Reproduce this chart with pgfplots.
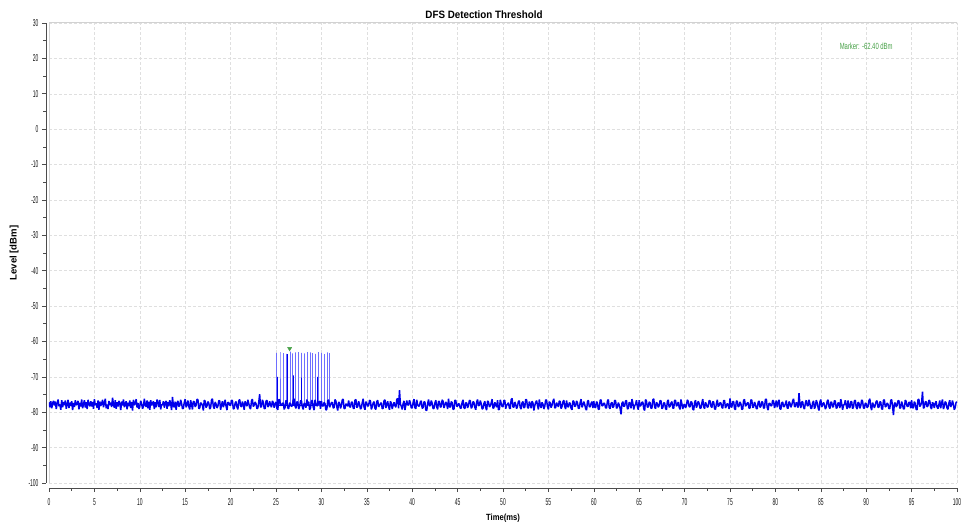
\documentclass[border=0pt]{standalone}
\usepackage{fontspec}
\setmainfont{Liberation Sans}
\newfontfamily\tickfont[FakeStretch=0.5]{Liberation Sans}
\newfontfamily\mkfont[FakeStretch=0.66]{Liberation Sans}
\newfontfamily\titlefont[FakeStretch=0.92]{Liberation Sans}
\newfontfamily\xlabfont[FakeStretch=0.85]{Liberation Sans}
\usepackage{pgfplots}
\pgfplotsset{compat=1.18}
\definecolor{mkgreen}{RGB}{70,160,70}
\definecolor{sig}{RGB}{0,0,235}
\definecolor{pulse}{RGB}{110,110,255}
\begin{document}
\begin{tikzpicture}
\begin{axis}[
  scale only axis, width=908bp, height=460bp,
  xmin=0, xmax=100, ymin=-100, ymax=30,
  axis x line*=bottom, axis y line*=left,
  axis x line shift=5bp, axis y line shift=3bp,
  axis line style={black!70, line width=0.8pt, -},
  xtick={0,5,...,100}, ytick={-100,-90,...,30},
  xticklabels={0,5,10,15,20,25,30,35,40,45,50,55,60,65,70,75,80,85,90,95,100},
  yticklabels={-100,-90,-80,-70,-60,-50,-40,-30,-20,-10,0,10,20,30},
  minor x tick num=1, minor y tick num=1,
  tick align=outside, major tick length=4bp, minor tick length=2.5bp,
  tick style={black!70, line width=0.6pt},
  grid=major, major grid style={densely dashed, gray!25, line width=0.4pt},
  tick label style={font=\tickfont\fontsize{10}{11}\selectfont, text=black!90},
  xticklabel style={yshift=-3bp},
  title={DFS Detection Threshold},
  every axis title/.style={font=\titlefont\bfseries\fontsize{10.7}{12}\selectfont, at={(rel axis cs:0.5,1)}, anchor=center, yshift=8bp, xshift=-19bp},
  xlabel={Time(ms)}, ylabel={Level [dBm]},
  every axis x label/.style={at={(rel axis cs:0.5,-0.0761)}, anchor=center, font=\xlabfont\bfseries\fontsize{9}{10}\selectfont},
  every axis y label/.style={at={(rel axis cs:-0.0385,0.5)}, anchor=center, rotate=90, font=\bfseries\fontsize{9.6}{10}\selectfont},
]
\draw[gray!35, line width=1pt] (rel axis cs:0,0) rectangle (rel axis cs:1,1);
\coordinate (LL) at (rel axis cs:0,0);
\coordinate (UR) at (rel axis cs:1,1);
% pulses
\addplot[pulse, line width=0.8pt] coordinates {
(25.08,-78)(25.08,-63.2)(25.08,-78)
(25.44,-78)(25.44,-63.0)(25.44,-78)
(25.81,-78)(25.81,-63.3)(25.81,-78)
(26.18,-78)(26.18,-63.5)(26.18,-78)
(26.54,-78)(26.54,-62.9)(26.54,-78)
(26.84,-78)(26.84,-63.4)(26.84,-78)
(27.12,-78)(27.12,-63.1)(27.12,-78)
(27.45,-78)(27.45,-63.0)(27.45,-78)
(27.78,-78)(27.78,-63.2)(27.78,-78)
(28.11,-78)(28.11,-63.4)(28.11,-78)
(28.41,-78)(28.41,-63.0)(28.41,-78)
(28.74,-78)(28.74,-63.1)(28.74,-78)
(29.04,-78)(29.04,-63.3)(29.04,-78)
(29.37,-78)(29.37,-63.5)(29.37,-78)
(29.70,-78)(29.70,-63.0)(29.70,-78)
(29.99,-78)(29.99,-63.2)(29.99,-78)
(30.29,-78)(30.29,-63.6)(30.29,-78)
(30.62,-78)(30.62,-63.1)(30.62,-78)
(30.87,-78)(30.87,-63.3)(30.87,-78)
};
\addplot[sig, line width=0.6pt] coordinates {
(25.10,-78)(25.10,-70.0)(25.10,-78)
(26.20,-78)(26.20,-63.6)(26.20,-78)
(26.86,-78)(26.86,-69.6)(26.86,-78)
(27.80,-78)(27.80,-70.2)(27.80,-78)
(29.60,-78)(29.60,-70.0)(29.60,-78)
};
% noise floor, 0.1 ms per sample
\addplot[sig, line width=1.5pt, line join=bevel] table[row sep=\\, header=false, x expr=\coordindex*0.1, y index=0] {
-77.2\\-78.6\\-76.9\\-78.9\\-77.4\\-76.8\\-78.1\\-77.0\\-79.1\\-77.5\\
-76.4\\-78.3\\-77.8\\-79.3\\-76.6\\-78.6\\-77.1\\-78.0\\-76.7\\-79.0\\
-77.9\\-76.5\\-78.8\\-77.3\\-78.2\\-76.9\\-79.4\\-77.4\\-78.5\\-76.6\\
-78.0\\-77.6\\-76.8\\-79.2\\-77.3\\-78.4\\-76.4\\-78.9\\-77.7\\-76.6\\
-78.7\\-77.2\\-79.1\\-76.5\\-77.8\\-78.3\\-76.9\\-78.4\\-77.1\\-79.0\\
-76.3\\-78.0\\-77.5\\-78.8\\-76.7\\-79.3\\-77.0\\-78.2\\-77.6\\-76.5\\
-78.6\\-77.4\\-76.2\\-78.9\\-77.8\\-79.1\\-76.8\\-78.0\\-77.3\\-78.5\\
-75.9\\-77.9\\-78.7\\-76.6\\-79.0\\-77.2\\-78.4\\-76.8\\-77.5\\-79.4\\
-77.0\\-78.1\\-76.4\\-78.6\\-77.7\\-76.9\\-79.2\\-77.3\\-78.3\\-76.7\\
-78.8\\-77.1\\-79.5\\-76.5\\-78.0\\-77.6\\-76.3\\-78.7\\-77.4\\-79.1\\
-78.2\\-76.8\\-77.6\\-79.0\\-78.4\\-76.2\\-77.9\\-78.5\\-76.7\\-78.9\\
-77.0\\-79.3\\-76.6\\-78.1\\-77.5\\-76.9\\-79.1\\-77.2\\-78.6\\-76.4\\
-77.3\\-78.5\\-76.5\\-79.2\\-77.8\\-78.0\\-76.9\\-78.7\\-77.4\\-76.8\\
-79.0\\-77.1\\-78.3\\-76.6\\-77.6\\-79.4\\-75.7\\-78.2\\-78.6\\-77.0\\
-79.3\\-77.5\\-76.8\\-78.4\\-78.1\\-76.5\\-77.5\\-79.0\\-78.9\\-77.2\\
-76.3\\-78.6\\-77.9\\-76.7\\-78.4\\-79.2\\-76.6\\-77.8\\-79.2\\-76.9\\
-77.1\\-78.5\\-78.0\\-76.4\\-76.4\\-79.0\\-78.8\\-77.3\\-77.6\\-78.1\\
-79.5\\-76.6\\-76.9\\-78.7\\-78.2\\-77.0\\-77.4\\-79.1\\-78.7\\-76.5\\
-76.2\\-78.4\\-79.0\\-77.1\\-77.7\\-78.8\\-78.3\\-76.7\\-76.8\\-79.3\\
-77.9\\-76.9\\-78.6\\-77.6\\-76.5\\-78.3\\-79.4\\-77.2\\-77.3\\-78.0\\
-78.1\\-76.6\\-76.7\\-79.1\\-78.9\\-77.4\\-77.0\\-78.5\\-79.2\\-76.8\\
-76.4\\-78.2\\-78.5\\-77.0\\-77.8\\-79.3\\-76.9\\-77.7\\-78.3\\-76.5\\
-77.5\\-78.7\\-79.1\\-76.8\\-76.3\\-78.4\\-78.0\\-77.1\\-77.6\\-79.0\\
-78.8\\-77.2\\-74.9\\-78.6\\-78.4\\-76.5\\-77.2\\-78.9\\-79.0\\-76.9\\
-76.6\\-78.5\\-78.2\\-76.9\\-77.9\\-78.6\\-76.8\\-77.3\\-78.7\\-77.6\\
-77.1\\-78.9\\-79.3\\-76.4\\-76.5\\-78.1\\-78.0\\-77.5\\-77.4\\-79.2\\
-78.6\\-76.7\\-76.9\\-78.8\\-79.0\\-77.3\\-77.7\\-78.4\\-78.1\\-76.6\\
-76.2\\-78.3\\-78.9\\-77.0\\-77.3\\-79.1\\-78.4\\-76.8\\-76.7\\-78.5\\
-79.2\\-77.4\\-77.8\\-78.7\\-76.4\\-78.0\\-77.0\\-79.3\\-78.8\\-76.9\\
-76.6\\-78.6\\-79.4\\-76.5\\-77.5\\-78.2\\-78.1\\-77.1\\-76.9\\-79.0\\
-76.8\\-78.1\\-78.3\\-77.2\\-77.6\\-79.4\\-79.1\\-76.7\\-76.5\\-78.6\\
-78.0\\-77.3\\-77.2\\-78.8\\-78.7\\-76.4\\-76.9\\-78.5\\-79.5\\-77.1\\
-77.4\\-78.9\\-78.2\\-76.5\\-76.3\\-79.0\\-78.9\\-77.6\\-77.9\\-78.3\\
-76.7\\-78.4\\-78.6\\-77.2\\-77.1\\-78.8\\-79.0\\-76.6\\-76.4\\-78.7\\
-78.4\\-76.9\\-77.7\\-79.1\\-78.8\\-77.3\\-76.2\\-78.6\\-79.3\\-77.0\\
-77.5\\-78.3\\-78.1\\-76.6\\-76.8\\-79.2\\-78.5\\-77.4\\-77.0\\-78.9\\
-79.2\\-77.0\\-76.6\\-78.5\\-78.0\\-77.6\\-77.3\\-79.0\\-78.9\\-76.7\\
-76.5\\-78.8\\-77.8\\-76.9\\-78.4\\-79.3\\-76.9\\-77.5\\-79.1\\-78.0\\
-77.2\\-78.1\\-78.6\\-76.4\\-76.1\\-78.9\\-73.8\\-77.7\\-78.3\\-79.2\\
-77.6\\-76.8\\-79.4\\-78.0\\-76.7\\-77.9\\-78.0\\-76.6\\-77.4\\-78.8\\
-78.8\\-77.3\\-76.3\\-78.7\\-79.0\\-76.5\\-77.9\\-78.3\\-78.2\\-77.0\\
-76.8\\-78.9\\-78.7\\-77.1\\-77.1\\-79.4\\-79.5\\-77.6\\-76.4\\-78.2\\
-78.1\\-76.7\\-77.5\\-79.0\\-78.9\\-77.4\\-76.6\\-78.5\\-79.2\\-76.9\\
-77.0\\-78.6\\-78.4\\-76.5\\-76.9\\-78.8\\-78.0\\-77.1\\-77.7\\-79.1\\
-76.2\\-78.4\\-78.6\\-77.0\\-77.3\\-79.2\\-79.1\\-76.6\\-76.7\\-78.3\\
-78.3\\-77.5\\-77.8\\-78.9\\-78.8\\-77.2\\-76.5\\-78.7\\-79.0\\-77.3\\
-77.4\\-78.8\\-78.1\\-76.6\\-76.8\\-78.9\\-78.5\\-77.0\\-77.2\\-78.6\\
-79.3\\-77.1\\-76.4\\-78.2\\-78.0\\-76.7\\-77.6\\-79.1\\-78.9\\-77.5\\
-76.9\\-78.7\\-79.4\\-76.8\\-77.1\\-78.5\\-78.2\\-77.4\\-76.3\\-78.9\\
-78.7\\-77.2\\-77.9\\-78.6\\-76.6\\-79.3\\-79.2\\-76.5\\-77.5\\-78.4\\
-78.4\\-76.6\\-76.7\\-79.0\\-78.0\\-77.7\\-77.3\\-78.8\\-79.0\\-76.4\\
-76.1\\-78.5\\-78.6\\-77.1\\-77.8\\-79.0\\-78.3\\-76.9\\-76.8\\-78.7\\
-79.1\\-77.3\\-77.0\\-78.8\\-78.5\\-76.4\\-76.5\\-78.6\\-78.9\\-77.0\\
-77.6\\-78.9\\-76.9\\-77.4\\-79.5\\-78.1\\-77.2\\-76.7\\-78.1\\-79.2\\
-76.4\\-78.0\\-78.8\\-77.2\\-77.7\\-79.1\\-78.3\\-76.5\\-76.6\\-78.5\\
-79.2\\-77.0\\-77.4\\-78.7\\-78.0\\-76.9\\-76.2\\-78.8\\-78.7\\-77.3\\
-77.9\\-78.5\\-76.8\\-77.0\\-79.0\\-78.4\\-77.1\\-76.6\\-78.4\\-79.1\\
-76.7\\-78.2\\-78.6\\-77.3\\-77.5\\-78.9\\-79.3\\-76.8\\-76.9\\-78.4\\
-78.2\\-76.8\\-77.3\\-78.9\\-78.9\\-77.2\\-76.3\\-78.6\\-78.0\\-77.0\\
-77.8\\-79.0\\-79.4\\-77.1\\-76.6\\-78.4\\-78.5\\-77.5\\-77.0\\-78.8\\
-76.9\\-78.6\\-78.7\\-77.0\\-77.4\\-79.2\\-79.1\\-76.6\\-76.5\\-78.2\\
-78.1\\-77.4\\-77.6\\-78.8\\-78.8\\-76.9\\-76.4\\-78.7\\-79.0\\-77.5\\
-77.2\\-78.7\\-78.3\\-76.6\\-76.8\\-78.9\\-78.6\\-77.3\\-77.9\\-79.0\\
-80.6\\-77.5\\-77.0\\-78.4\\-78.2\\-76.8\\-76.7\\-79.1\\-78.9\\-77.2\\
-77.5\\-78.9\\-76.3\\-77.4\\-79.2\\-78.1\\-77.8\\-76.6\\-78.4\\-79.3\\
-76.6\\-78.3\\-78.0\\-77.2\\-77.1\\-79.0\\-79.5\\-76.4\\-76.9\\-78.6\\
-78.5\\-77.1\\-77.3\\-78.9\\-78.8\\-76.5\\-76.2\\-78.5\\-79.0\\-77.2\\
-77.6\\-78.6\\-78.1\\-76.7\\-76.8\\-79.0\\-78.7\\-77.3\\-77.4\\-78.9\\
-79.3\\-77.0\\-76.5\\-78.6\\-78.3\\-77.4\\-77.0\\-78.8\\-78.9\\-76.6\\
-76.7\\-78.3\\-77.9\\-77.1\\-78.6\\-79.2\\-76.4\\-77.6\\-79.1\\-78.0\\
-77.7\\-78.8\\-78.2\\-76.5\\-76.9\\-78.4\\-78.5\\-77.0\\-77.2\\-79.1\\
-79.4\\-77.3\\-76.6\\-78.7\\-78.0\\-76.9\\-77.5\\-78.9\\-78.8\\-77.4\\
-76.3\\-78.5\\-79.0\\-77.2\\-77.8\\-78.6\\-78.4\\-76.7\\-76.8\\-78.3\\
-78.7\\-77.0\\-77.1\\-79.0\\-79.2\\-77.6\\-76.5\\-78.4\\-78.1\\-77.3\\
-77.4\\-78.6\\-78.9\\-76.7\\-76.7\\-78.8\\-78.3\\-77.5\\-77.9\\-79.1\\
-76.1\\-78.4\\-78.6\\-77.0\\-77.0\\-79.0\\-79.3\\-76.8\\-76.9\\-78.5\\
-78.2\\-77.1\\-77.6\\-79.2\\-79.1\\-76.6\\-76.4\\-78.3\\-78.0\\-77.4\\
-77.3\\-78.9\\-78.8\\-76.5\\-76.6\\-78.7\\-78.5\\-77.1\\-77.8\\-79.0\\
-79.0\\-77.2\\-76.8\\-78.6\\-78.4\\-77.0\\-77.2\\-78.9\\-78.7\\-76.4\\
-76.3\\-78.7\\-79.4\\-77.5\\-77.5\\-78.2\\-78.1\\-76.6\\-76.9\\-78.8\\
-77.9\\-76.7\\-78.6\\-77.3\\-76.5\\-79.0\\-79.2\\-77.4\\-77.1\\-78.5\\
-78.3\\-77.6\\-76.7\\-78.8\\-78.9\\-77.0\\-77.4\\-78.6\\-78.0\\-76.8\\
-76.2\\-78.3\\-78.5\\-77.2\\-77.7\\-78.7\\-74.6\\-77.8\\-78.8\\-77.1\\
-77.0\\-78.6\\-79.1\\-77.4\\-76.6\\-78.1\\-78.2\\-76.5\\-77.6\\-78.9\\
-78.9\\-77.3\\-76.8\\-79.0\\-78.4\\-76.6\\-77.3\\-78.7\\-79.5\\-77.1\\
-76.4\\-78.5\\-78.0\\-77.2\\-77.9\\-79.1\\-78.6\\-76.9\\-76.5\\-78.4\\
-79.0\\-77.1\\-77.2\\-78.6\\-78.3\\-76.7\\-76.9\\-78.9\\-78.7\\-77.3\\
-77.5\\-78.8\\-76.3\\-77.6\\-79.3\\-78.0\\-77.8\\-76.6\\-78.1\\-79.1\\
-76.7\\-78.4\\-78.8\\-77.0\\-77.0\\-79.0\\-78.5\\-76.8\\-76.6\\-78.6\\
-79.1\\-77.2\\-77.4\\-78.9\\-78.2\\-76.5\\-76.9\\-78.8\\-78.9\\-77.4\\
-77.6\\-78.7\\-78.4\\-76.7\\-76.2\\-78.5\\-79.4\\-77.3\\-77.9\\-78.8\\
-78.0\\-76.9\\-76.8\\-78.6\\-78.6\\-77.1\\-77.1\\-79.0\\-79.2\\-76.6\\
-76.5\\-78.5\\-78.3\\-77.4\\-77.7\\-79.0\\-78.9\\-76.7\\-76.4\\-78.3\\
-80.8\\-77.6\\-77.3\\-78.5\\-78.1\\-76.8\\-76.7\\-78.9\\-78.7\\-77.0\\
-77.8\\-79.1\\-79.0\\-76.6\\-76.9\\-78.3\\-78.4\\-77.2\\-77.2\\-78.9\\
-76.6\\-78.7\\-78.8\\-77.0\\-77.5\\-79.2\\-79.3\\-76.5\\-76.3\\-78.4\\
-78.0\\-77.3\\-74.2\\-78.9\\-78.6\\-77.1\\-77.0\\-78.5\\-78.2\\-76.6\\
-76.8\\-78.6\\-79.1\\-77.2\\-77.6\\-78.8\\-77.5\\-76.9\\-78.5\\-79.0\\
-77.9\\-76.7\\-78.9\\-77.4\\-76.4\\-79.1\\-78.3\\-77.0\\-77.4\\-78.8\\
-79.2\\-77.5\\-76.6\\-78.5\\-78.0\\-76.7\\-77.7\\-79.3\\-78.7\\-77.2\\
-77.1\\
};
% marker
\addplot[only marks, mark=triangle*, mark size=2.4bp, mark options={rotate=180, fill=mkgreen, draw=mkgreen}] coordinates {(26.5,-62.0)};
\node[font=\mkfont\fontsize{9}{10}\selectfont, text=mkgreen] at (axis cs:90,23.4) {Marker: -62.40 dBm};
\end{axis}
\pgfresetboundingbox
\path (LL) ++(-49bp,-43bp) rectangle ([shift={(7bp,23bp)}]UR);
\end{tikzpicture}
\end{document}
